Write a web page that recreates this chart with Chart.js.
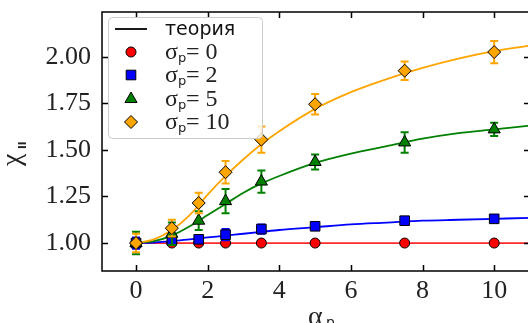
<!DOCTYPE html>
<html>
<head>
<meta charset="utf-8">
<script src="https://cdn.jsdelivr.net/npm/chart.js@4/dist/chart.umd.min.js"></script>
<style>
  html, body { margin: 0; padding: 0; background: #fff; overflow: hidden; }
  #wrap { width: 528px; height: 323px; overflow: hidden; }
  canvas { display: block; }
</style>
</head>
<body>
<div id="wrap"><canvas id="chart" width="532" height="323"></canvas></div>
<script>
// experimental points
const alphaExp = [0, 1, 1.75, 2.5, 3.5, 5, 7.5, 10];
const chiSigma0 = [1.00, 1.00, 1.00, 1.00, 1.00, 1.00, 1.00, 1.00];
const errSigma0 = [0.008, 0.008, 0.008, 0.008, 0.008, 0.008, 0.008, 0.008];
const chiSigma2 = [1.00, 1.015, 1.02, 1.045, 1.075, 1.09, 1.12, 1.13];
const errSigma2 = [0.03, 0.02, 0.02, 0.03, 0.025, 0.015, 0.012, 0.012];
const chiSigma5 = [1.00, 1.05, 1.12, 1.225, 1.33, 1.435, 1.54, 1.61];
const errSigma5 = [0.06, 0.06, 0.05, 0.065, 0.06, 0.04, 0.055, 0.035];
const chiSigma10 = [1.00, 1.08, 1.215, 1.38, 1.555, 1.745, 1.925, 2.025];
const errSigma10 = [0.05, 0.045, 0.055, 0.06, 0.07, 0.055, 0.05, 0.06];

// theory curves
const alphaTheory = [0, 0.5, 1, 1.5, 2, 2.5, 3, 3.5, 4, 5, 6, 7, 8, 9, 10, 11];
const theory0 = [1, 1, 1, 1, 1, 1, 1, 1, 1, 1, 1, 1, 1, 1, 1, 1];
const theory2 = [1.00, 1.003, 1.01, 1.02, 1.03, 1.04, 1.05, 1.06, 1.07, 1.085, 1.10, 1.11, 1.12, 1.125, 1.13, 1.135];
const theory5 = [1.00, 1.01, 1.04, 1.09, 1.15, 1.21, 1.27, 1.32, 1.36, 1.43, 1.48, 1.52, 1.56, 1.59, 1.61, 1.63];
const theory10 = [1.00, 1.02, 1.07, 1.15, 1.26, 1.36, 1.45, 1.53, 1.60, 1.72, 1.81, 1.88, 1.94, 1.99, 2.03, 2.06];

// axis ticks
const xTicks = [0, 2, 4, 6, 8, 10];
const yTicks = [1.00, 1.25, 1.50, 1.75, 2.00];

const legendLabels = ['0', '2', '5', '10'];

const serif = '"Liberation Serif", "DejaVu Serif", serif';
const sans = '"DejaVu Sans", sans-serif';

function pts(xs, ys) {
    return xs.map(function(x, i) { return { x: x, y: ys[i] }; });
}

const series = [
    { color: '#ff0000', line: '#ff2a2a', style: 'circle', radius: 5, data: chiSigma0, err: errSigma0, theory: theory0 },
    { color: '#0000ff', line: '#0000ff', style: 'rect', radius: 6.8, data: chiSigma2, err: errSigma2, theory: theory2 },
    { color: '#008000', line: '#008000', style: 'triangle', radius: 7, data: chiSigma5, err: errSigma5, theory: theory5 },
    { color: '#ffa500', line: '#ffa500', style: 'rectRot', radius: 6.5, data: chiSigma10, err: errSigma10, theory: theory10 }
];

const datasets = [];
series.forEach(function(s, i) {
    datasets.push({
        type: 'line',
        data: pts(alphaTheory, s.theory),
        borderColor: s.line,
        borderWidth: 1.8,
        pointRadius: 0,
        fill: false,
        cubicInterpolationMode: 'monotone',
        order: 20 - i
    });
});
series.forEach(function(s, i) {
    datasets.push({
        type: 'scatter',
        data: pts(alphaExp, s.data),
        errors: s.err,
        backgroundColor: s.color,
        borderColor: '#000',
        borderWidth: 1,
        pointStyle: s.style,
        pointRadius: s.radius,
        pointHoverRadius: s.radius,
        showLine: false,
        isExp: true,
        order: 10 - i
    });
});

// error bars drawn under each marker set
const errorBars = {
    id: 'errorBars',
    beforeDatasetDraw: function(chart, args) {
        const ds = chart.data.datasets[args.index];
        if (!ds.isExp) return;
        const ctx = chart.ctx;
        const xs = chart.scales.x, ys = chart.scales.y;
        const color = series[args.index - 4].color;
        ctx.save();
        ctx.strokeStyle = color;
        ctx.lineWidth = 2;
        ds.data.forEach(function(p, i) {
            const px = xs.getPixelForValue(p.x);
            const top = ys.getPixelForValue(p.y + ds.errors[i]);
            const bot = ys.getPixelForValue(p.y - ds.errors[i]);
            ctx.beginPath();
            ctx.moveTo(px, top); ctx.lineTo(px, bot);
            ctx.moveTo(px - 4, top); ctx.lineTo(px + 4, top);
            ctx.moveTo(px - 4, bot); ctx.lineTo(px + 4, bot);
            ctx.stroke();
        });
        ctx.restore();
    }
};

// frame, inward ticks, axis titles and the legend box
const decor = {
    id: 'decor',
    afterDraw: function(chart) {
        const ctx = chart.ctx;
        const a = chart.chartArea;
        const xs = chart.scales.x, ys = chart.scales.y;
        ctx.save();
        ctx.strokeStyle = '#000';
        ctx.lineWidth = 1.5;
        ctx.strokeRect(a.left, a.top, a.right - a.left, a.bottom - a.top);
        ctx.beginPath();
        xTicks.forEach(function(v) {
            const px = Math.round(xs.getPixelForValue(v)) + 0.5;
            ctx.moveTo(px, a.bottom); ctx.lineTo(px, a.bottom - 6);
            ctx.moveTo(px, a.top); ctx.lineTo(px, a.top + 6);
        });
        yTicks.forEach(function(v) {
            const py = Math.round(ys.getPixelForValue(v)) + 0.5;
            ctx.moveTo(a.left, py); ctx.lineTo(a.left + 6, py);
            ctx.moveTo(a.right, py); ctx.lineTo(a.right - 6, py);
        });
        ctx.stroke();

        // x title
        ctx.fillStyle = '#222';
        ctx.textBaseline = 'alphabetic';
        ctx.textAlign = 'left';
        ctx.font = '28px ' + serif;
        ctx.fillText('α', 308, 325);
        ctx.font = '14px ' + sans;
        ctx.fillText('p', 326, 327);

        // y title
        ctx.save();
        ctx.translate(20, 166);
        ctx.rotate(-Math.PI / 2);
        ctx.font = '28px ' + serif;
        ctx.fillText('χ', 0, 0);
        ctx.font = 'bold 11px ' + sans;
        ctx.fillText('ll', 17, 6);
        ctx.restore();

        // legend
        const lx = 108, ly = 17, lw = 154, lh = 121;
        ctx.fillStyle = 'rgba(255,255,255,0.8)';
        ctx.strokeStyle = '#cccccc';
        ctx.lineWidth = 1;
        ctx.beginPath();
        ctx.roundRect(lx + 0.5, ly + 0.5, lw, lh, 4);
        ctx.fill();
        ctx.stroke();

        const rows = [29, 52, 75, 99, 122];
        ctx.strokeStyle = '#000';
        ctx.lineWidth = 1.8;
        ctx.beginPath();
        ctx.moveTo(115, rows[0]); ctx.lineTo(147, rows[0]);
        ctx.stroke();
        ctx.fillStyle = '#111';
        ctx.font = '19px ' + sans;
        ctx.textBaseline = 'middle';
        ctx.fillText('теория', 165, rows[0] + 1);

        series.forEach(function(s, i) {
            const y = rows[i + 1];
            ctx.fillStyle = s.color;
            ctx.strokeStyle = '#000';
            ctx.lineWidth = 1;
            Chart.helpers.drawPoint(ctx, { pointStyle: s.style, radius: s.radius, rotation: 0, borderWidth: 1 }, 131, y);
            ctx.fillStyle = '#222';
            ctx.textBaseline = 'alphabetic';
            ctx.font = '24px ' + serif;
            ctx.fillText('σ', 165, y + 7);
            ctx.font = '13px ' + sans;
            ctx.fillText('p', 178, y + 10);
            ctx.font = '24px ' + serif;
            ctx.fillText('= ' + legendLabels[i], 186, y + 7);
        });
        ctx.restore();
    }
};

new Chart(document.getElementById('chart'), {
    data: { datasets: datasets },
    options: {
        responsive: false,
        devicePixelRatio: 1,
        animation: false,
        layout: { autoPadding: false, padding: { top: 12, right: 2, left: 0, bottom: 0 } },
        plugins: { legend: { display: false }, tooltip: { enabled: false } },
        scales: {
            x: {
                type: 'linear',
                min: -0.95,
                max: 11.0,
                grid: { display: false, drawTicks: false },
                border: { display: false },
                afterFit: function(scale) {
                    scale.height = 52;
                    scale.paddingLeft = 0;
                    scale.paddingRight = 0;
                },
                afterBuildTicks: function(scale) {
                    scale.ticks = xTicks.map(function(v) { return { value: v }; });
                },
                ticks: {
                    padding: 5,
                    color: '#222',
                    font: { family: serif, size: 26 },
                    callback: function(v) { return String(v); }
                }
            },
            y: {
                type: 'linear',
                min: 0.85,
                max: 2.24,
                grid: { display: false, drawTicks: false },
                border: { display: false },
                afterFit: function(scale) {
                    scale.width = 102;
                    scale.paddingTop = 0;
                    scale.paddingBottom = 0;
                },
                afterBuildTicks: function(scale) {
                    scale.ticks = yTicks.map(function(v) { return { value: v }; });
                },
                ticks: {
                    padding: 11,
                    color: '#222',
                    font: { family: serif, size: 26 },
                    callback: function(v) { return v.toFixed(2); }
                }
            }
        }
    },
    plugins: [errorBars, decor]
});
</script>
</body>
</html>
